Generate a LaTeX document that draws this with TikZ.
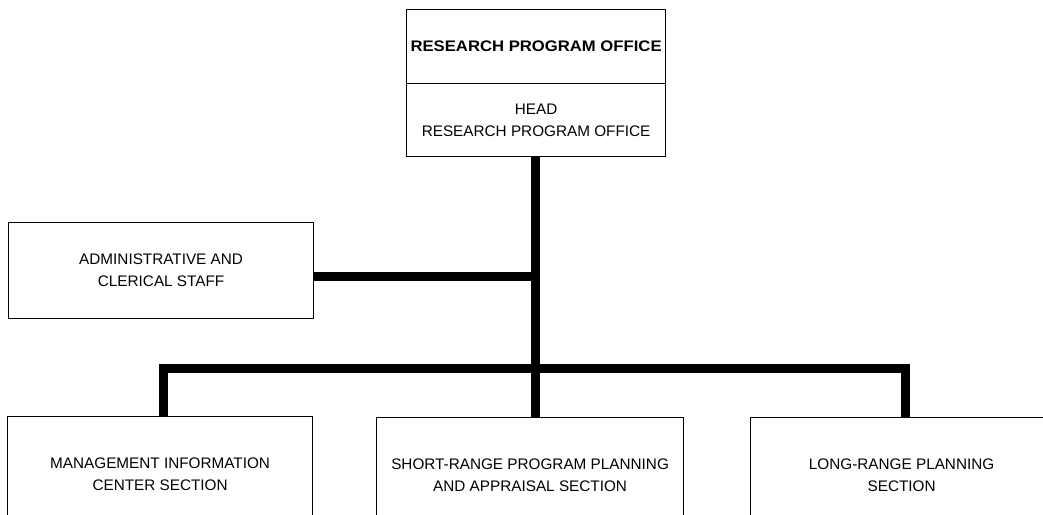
\documentclass[tikz,border=0pt]{standalone}
\usepackage{fontspec}
\setmainfont{Liberation Sans}
\begin{document}
\begin{tikzpicture}[x=1pt,y=-1pt,
  box/.style={draw=black, line width=1.2pt, fill=white, align=center, inner sep=0pt,
    font=\fontsize{15.3}{22}\selectfont, anchor=north west},
  conn/.style={draw=black, line width=9pt, line join=miter}]
\useasboundingbox[fill=white] (0,0) rectangle (1043,514);
% top office box
\node[box, minimum width=259pt, minimum height=74pt] (title) at (406,9)
  {\scalebox{1.09}[1]{\bfseries RESEARCH PROGRAM OFFICE}};
\node[box, minimum width=259pt, minimum height=73pt] (head) at (406,83)
  {HEAD\\RESEARCH PROGRAM OFFICE};
% staff box
\node[box, minimum width=305pt, minimum height=96pt] (admin) at (8,222)
  {ADMINISTRATIVE AND\\CLERICAL STAFF};
% sections
\node[box, minimum width=305pt, minimum height=116pt] (mic) at (7,416)
  {MANAGEMENT INFORMATION\\CENTER SECTION};
\node[box, minimum width=307pt, minimum height=115pt] (srp) at (376,417)
  {SHORT-RANGE PROGRAM PLANNING\\AND APPRAISAL SECTION};
\node[box, minimum width=302pt, minimum height=116pt] (lrp) at (750,417)
  {LONG-RANGE PLANNING\\SECTION};
% connectors
\coordinate (trunk) at (535,156);
\coordinate (al) at (313,276);
\coordinate (barL) at (163,368);
\coordinate (barR) at (905,368);
\draw[conn] (head.south -| trunk) -- (trunk |- srp.north);
\draw[conn] (admin.east |- al) -- (al -| trunk);
\draw[conn] (barL |- mic.north) -- (barL) -- (barR) -- (barR |- lrp.north);
\end{tikzpicture}
\end{document}
